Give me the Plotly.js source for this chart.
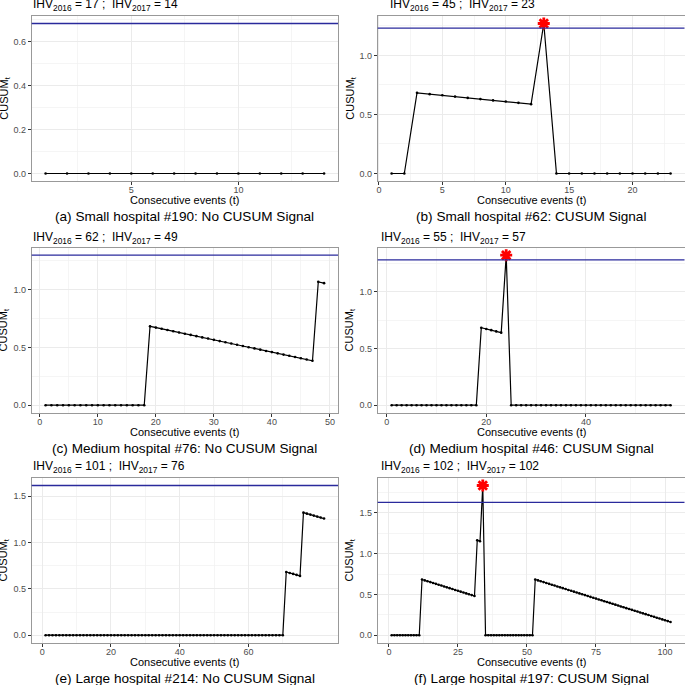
<!DOCTYPE html>
<html>
<head>
<meta charset="utf-8">
<script src="https://cdn.plot.ly/plotly-3.0.1.min.js"></script>
<style>
  html, body { margin: 0; padding: 0; background: #fff; }
  #chart { width: 685px; height: 685px; }
</style>
</head>
<body>
<div id="chart"></div>
<script>
// CUSUM value for each consecutive event t = 1, 2, ... (one array per hospital)
const cusumA = [0, 0, 0, 0, 0, 0, 0, 0, 0, 0, 0, 0, 0, 0];

const cusumB = [0, 0, 0.683, 0.672, 0.662, 0.651, 0.640, 0.630, 0.619, 0.609, 0.598, 0.587,
  1.270, 0, 0, 0, 0, 0, 0, 0, 0, 0, 0];

const cusumC = [0, 0, 0, 0, 0, 0, 0, 0, 0, 0, 0, 0, 0, 0, 0, 0, 0, 0,
  0.683, 0.672, 0.662, 0.651, 0.640, 0.630, 0.619, 0.609, 0.598, 0.587,
  0.577, 0.566, 0.555, 0.545, 0.534, 0.524, 0.513, 0.502, 0.492, 0.481,
  0.470, 0.460, 0.449, 0.438, 0.428, 0.417, 0.407, 0.396, 0.385,
  1.068, 1.057];

const cusumD = [0, 0, 0, 0, 0, 0, 0, 0, 0, 0, 0, 0, 0, 0, 0, 0, 0, 0,
  0.683, 0.672, 0.662, 0.651, 0.640, 1.323,
  0, 0, 0, 0, 0, 0, 0, 0, 0, 0, 0, 0, 0, 0, 0, 0, 0, 0, 0, 0, 0, 0, 0, 0, 0, 0, 0, 0, 0, 0, 0, 0, 0];

const cusumE = [0, 0, 0, 0, 0, 0, 0, 0, 0, 0, 0, 0, 0, 0, 0, 0, 0, 0, 0, 0,
  0, 0, 0, 0, 0, 0, 0, 0, 0, 0, 0, 0, 0, 0, 0, 0, 0, 0, 0, 0,
  0, 0, 0, 0, 0, 0, 0, 0, 0, 0, 0, 0, 0, 0, 0, 0, 0, 0, 0, 0,
  0, 0, 0, 0, 0, 0, 0, 0, 0, 0,
  0.683, 0.672, 0.662, 0.651, 0.640,
  1.323, 1.312, 1.302, 1.291, 1.280, 1.270, 1.259];

const cusumF = [0, 0, 0, 0, 0, 0, 0, 0, 0, 0, 0,
  0.683, 0.672, 0.662, 0.651, 0.640, 0.630, 0.619, 0.609, 0.598, 0.587,
  0.577, 0.566, 0.555, 0.545, 0.534, 0.524, 0.513, 0.502, 0.492, 0.481,
  1.164, 1.153, 1.836,
  0, 0, 0, 0, 0, 0, 0, 0, 0, 0, 0, 0, 0, 0, 0, 0, 0, 0,
  0.683, 0.672, 0.662, 0.651, 0.640, 0.630, 0.619, 0.609, 0.598, 0.587,
  0.577, 0.566, 0.555, 0.545, 0.534, 0.524, 0.513, 0.502, 0.492, 0.481,
  0.470, 0.460, 0.449, 0.438, 0.428, 0.417, 0.407, 0.396, 0.385, 0.375,
  0.364, 0.353, 0.343, 0.332, 0.322, 0.311, 0.300, 0.290, 0.279, 0.268,
  0.258, 0.247, 0.236, 0.226, 0.215, 0.205, 0.194, 0.183, 0.173, 0.162];

const series = [cusumA, cusumB, cusumC, cusumD, cusumE, cusumF];
const thresholds = [0.683, 1.230, 1.299, 1.281, 1.616, 1.628];
const signalEvents = [[], [13], [], [24], [], [34]];
const ihv2016 = [17, 45, 62, 55, 101, 102];
const ihv2017 = [14, 23, 49, 57, 76, 102];
const captions = [
  "(a) Small hospital #190: No CUSUM Signal",
  "(b) Small hospital #62: CUSUM Signal",
  "(c) Medium hospital #76: No CUSUM Signal",
  "(d) Medium hospital #46: CUSUM Signal",
  "(e) Large hospital #214: No CUSUM Signal",
  "(f) Large hospital #197: CUSUM Signal"
];

// tick labels on the event axis, per panel
const xTicks = [
  [5, 10],
  [0, 5, 10, 15, 20],
  [0, 10, 20, 30, 40, 50],
  [0, 20, 40],
  [0, 20, 40, 60],
  [0, 25, 50, 75, 100]
];
const yStep = [0.2, 0.5, 0.5, 0.5, 0.5, 0.5];

// panel geometry in pixels
const W = 685, H = 685;
const colX = [[31.7, 338], [377.7, 684.5]];
const rowY = [[16, 181], [247.7, 412.7], [478, 642.7]];
const headerX = [31, 387.5, 31, 378.7, 31, 378.7];
const headerY = [5, 5, 237.5, 237.5, 467, 467];

const px = v => v / W;
const py = v => 1 - v / H;
const FONT = "Liberation Sans, Arial, Helvetica, sans-serif";

const traces = [];
const layout = {
  width: W, height: H,
  margin: {l: 0, r: 0, t: 0, b: 0},
  paper_bgcolor: "#fff", plot_bgcolor: "#fff",
  showlegend: false,
  font: {family: FONT, color: "#000"},
  annotations: [], shapes: []
};

series.forEach((vals, i) => {
  const n = vals.length;
  const t = vals.map((_, k) => k + 1);
  const col = i % 2, row = Math.floor(i / 2);
  const xa = i === 0 ? "x" : "x" + (i + 1);
  const ya = i === 0 ? "y" : "y" + (i + 1);
  const xKey = i === 0 ? "xaxis" : "xaxis" + (i + 1);
  const yKey = i === 0 ? "yaxis" : "yaxis" + (i + 1);

  traces.push({
    x: t, y: vals, xaxis: xa, yaxis: ya,
    type: "scatter", mode: "lines+markers",
    line: {color: "#000", width: 1.2},
    marker: {color: "#000", size: 2.6},
    hoverinfo: "skip"
  });

  const sig = signalEvents[i];
  if (sig.length) {
    traces.push({
      x: sig, y: sig.map(s => vals[s - 1]), xaxis: xa, yaxis: ya,
      type: "scatter", mode: "markers", cliponaxis: false,
      marker: {symbol: "asterisk-open", size: 10, color: "red", line: {color: "red", width: 2.8}},
      hoverinfo: "skip"
    });
  }

  // ggplot-style 5% expansion
  const xPad = 0.05 * (n - 1);
  const yMax = Math.max(thresholds[i], ...vals);
  const yPad = 0.05 * yMax;

  const ticks = xTicks[i];
  const xStep = ticks[1] - ticks[0];
  const minorX = [];
  for (let v = ticks[0] - xStep / 2; v <= n + xPad; v += xStep) minorX.push(v);

  const common = {
    ticks: "outside", ticklen: 3, tickwidth: 1, tickcolor: "#333",
    showline: true, mirror: true, linecolor: "#999", linewidth: 1,
    showgrid: true, gridcolor: "#EBEBEB", gridwidth: 1,
    zeroline: false, fixedrange: true,
    tickfont: {family: FONT, size: 9, color: "#4D4D4D"}
  };

  layout[xKey] = Object.assign({}, common, {
    domain: [px(colX[col][0]), px(colX[col][1])],
    anchor: ya,
    range: [1 - xPad, n + xPad],
    tickmode: "array", tickvals: ticks, ticktext: ticks.map(String),
    ticklabelstandoff: -3,
    minor: {tickmode: "array", tickvals: minorX, showgrid: true, gridcolor: "#F1F1F1", gridwidth: 0.7}
  });
  layout[yKey] = Object.assign({}, common, {
    domain: [py(rowY[row][1]), py(rowY[row][0])],
    anchor: xa,
    range: [-yPad, yMax + yPad],
    tickmode: "linear", tick0: 0, dtick: yStep[i], tickformat: ".1f",
    minor: {tick0: 0, dtick: yStep[i] / 2, showgrid: true, gridcolor: "#F1F1F1", gridwidth: 0.7}
  });

  // threshold line
  layout.shapes.push({
    type: "line", xref: xa + " domain", x0: 0, x1: 1,
    yref: ya, y0: thresholds[i], y1: thresholds[i],
    line: {color: "#2a2a9c", width: 1.3}
  });

  const cx = (colX[col][0] + colX[col][1]) / 2;
  const cy = (rowY[row][0] + rowY[row][1]) / 2;

  layout.annotations.push(
    {
      xref: "paper", yref: "paper", x: px(headerX[i]), y: py(headerY[i]),
      xanchor: "left", yanchor: "middle", showarrow: false,
      text: "IHV<sub>2016</sub> = " + ihv2016[i] + " ;&nbsp; IHV<sub>2017</sub> = " + ihv2017[i],
      font: {family: FONT, size: 12, color: "#000"}
    },
    {
      xref: "paper", yref: "paper", x: px(cx), y: py(rowY[row][1] + 19.5),
      xanchor: "center", yanchor: "middle", showarrow: false,
      text: "Consecutive events (t)",
      font: {family: FONT, size: 11, color: "#000"}
    },
    {
      xref: "paper", yref: "paper", x: px(colX[col][0] - 27.5), y: py(cy),
      xanchor: "center", yanchor: "middle", showarrow: false, textangle: -90,
      text: "CUSUM<sub>t</sub>",
      font: {family: FONT, size: 11, color: "#000"}
    },
    {
      xref: "paper", yref: "paper", x: px(cx), y: py(rowY[row][1] + 35.5),
      xanchor: "center", yanchor: "middle", showarrow: false,
      text: captions[i],
      font: {family: FONT, size: 13.6, color: "#000"}
    }
  );
});

Plotly.newPlot("chart", traces, layout, {staticPlot: true, displayModeBar: false});
</script>
</body>
</html>
